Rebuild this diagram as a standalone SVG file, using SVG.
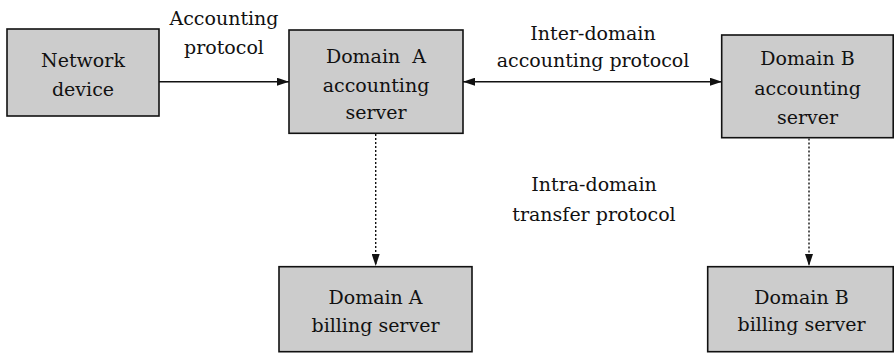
<svg xmlns="http://www.w3.org/2000/svg" width="895" height="353" viewBox="0 0 895 353">
  <style>
    .box { fill: #cccccc; stroke: #111; stroke-width: 1.6; }
    .lbl { font-family: 'DejaVu Serif', 'Liberation Serif', serif; font-size: 19px; fill: #111; text-anchor: middle; }
    .solid { stroke: #111; stroke-width: 1.5; fill: none; }
    .dotted { stroke: #111; stroke-width: 1.4; fill: none; stroke-dasharray: 2 2; }
  </style>
  <defs>
    <marker id="arrow" viewBox="0 0 12 8" refX="12" refY="4" markerWidth="12" markerHeight="8" markerUnits="userSpaceOnUse" orient="auto-start-reverse">
      <path d="M0,0 L12,4 L0,8 Z" fill="#111"/>
    </marker>
  </defs>

  <rect width="895" height="353" fill="#fff"/>

  <!-- connectors and their labels -->
  <g id="connectors">
    <line class="solid" x1="159" y1="81.7" x2="289" y2="81.7" marker-end="url(#arrow)"/>
    <line class="solid" x1="463" y1="81.7" x2="722" y2="81.7" marker-start="url(#arrow)" marker-end="url(#arrow)"/>
    <line class="dotted" x1="375.7" y1="134" x2="375.7" y2="266" marker-end="url(#arrow)"/>
    <line class="dotted" x1="809" y1="138.5" x2="809" y2="266" marker-end="url(#arrow)"/>
    <text class="lbl" x="224" y="24.5">Accounting</text>
    <text class="lbl" x="224" y="53.5">protocol</text>
    <text class="lbl" x="593" y="40">Inter-domain</text>
    <text class="lbl" x="593" y="67">accounting protocol</text>
    <text class="lbl" x="594" y="190.7">Intra-domain</text>
    <text class="lbl" x="594" y="220.7">transfer protocol</text>
  </g>

  <g id="network-device">
    <rect class="box" x="7" y="29" width="152" height="87"/>
    <text class="lbl" x="83" y="67">Network</text>
    <text class="lbl" x="83" y="96">device</text>
  </g>

  <g id="domain-a-accounting">
    <rect class="box" x="289" y="30" width="174" height="103.3"/>
    <text class="lbl" x="376" y="63.3" xml:space="preserve">Domain  A</text>
    <text class="lbl" x="376" y="91.5">accounting</text>
    <text class="lbl" x="376" y="119">server</text>
  </g>

  <g id="domain-b-accounting">
    <rect class="box" x="721.7" y="35" width="171.5" height="102.7"/>
    <text class="lbl" x="807.5" y="64.5">Domain B</text>
    <text class="lbl" x="807.5" y="94.5">accounting</text>
    <text class="lbl" x="807.5" y="124">server</text>
  </g>

  <g id="domain-a-billing">
    <rect class="box" x="279" y="266.7" width="193" height="85"/>
    <text class="lbl" x="375.5" y="304">Domain A</text>
    <text class="lbl" x="375.5" y="331.7">billing server</text>
  </g>

  <g id="domain-b-billing">
    <rect class="box" x="707.7" y="266.7" width="185.5" height="85"/>
    <text class="lbl" x="801.5" y="303.5">Domain B</text>
    <text class="lbl" x="801.5" y="331">billing server</text>
  </g>
</svg>
